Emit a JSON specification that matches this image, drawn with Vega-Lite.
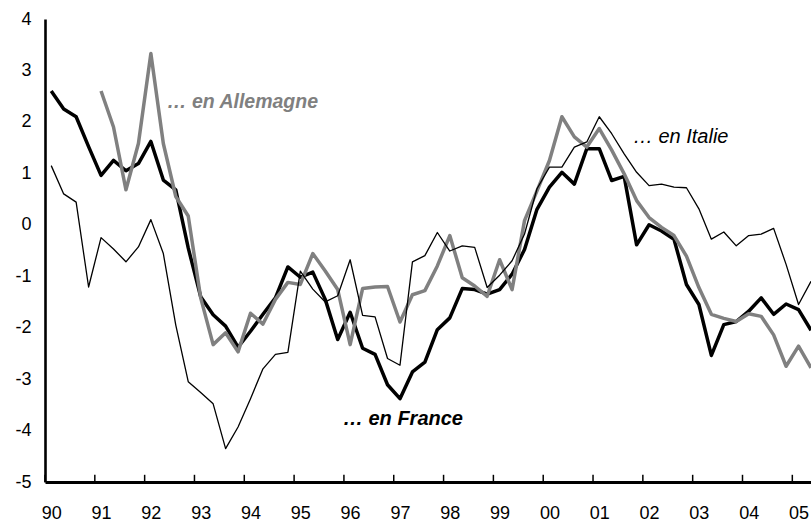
{
  "$schema": "https://vega.github.io/schema/vega-lite/v6.json",
  "width": 766,
  "height": 463,
  "autosize": {"type": "none"},
  "padding": {"left": 45, "top": 19, "right": 0, "bottom": 44},
  "background": "white",
  "config": {"view": {"stroke": null}, "font": "Liberation Sans"},
  "datasets": {
    "annees": [
      {"annee":1990},{"annee":1991},{"annee":1992},{"annee":1993},{"annee":1994},{"annee":1995},{"annee":1996},{"annee":1997},
      {"annee":1998},{"annee":1999},{"annee":2000},{"annee":2001},{"annee":2002},{"annee":2003},{"annee":2004},{"annee":2005}
    ],
    "france": [
      {"t":1990.125,"v":2.60},{"t":1990.375,"v":2.25},{"t":1990.625,"v":2.10},{"t":1990.875,"v":1.52},
      {"t":1991.125,"v":0.96},{"t":1991.375,"v":1.25},{"t":1991.625,"v":1.05},{"t":1991.875,"v":1.19},
      {"t":1992.125,"v":1.62},{"t":1992.375,"v":0.87},{"t":1992.625,"v":0.68},{"t":1992.875,"v":-0.45},
      {"t":1993.125,"v":-1.40},{"t":1993.375,"v":-1.75},{"t":1993.625,"v":-1.97},{"t":1993.875,"v":-2.38},
      {"t":1994.125,"v":-2.07},{"t":1994.375,"v":-1.74},{"t":1994.625,"v":-1.42},{"t":1994.875,"v":-0.82},
      {"t":1995.125,"v":-1.02},{"t":1995.375,"v":-0.92},{"t":1995.625,"v":-1.45},{"t":1995.875,"v":-2.23},
      {"t":1996.125,"v":-1.70},{"t":1996.375,"v":-2.40},{"t":1996.625,"v":-2.52},{"t":1996.875,"v":-3.11},
      {"t":1997.125,"v":-3.38},{"t":1997.375,"v":-2.86},{"t":1997.625,"v":-2.67},{"t":1997.875,"v":-2.04},
      {"t":1998.125,"v":-1.81},{"t":1998.375,"v":-1.24},{"t":1998.625,"v":-1.26},{"t":1998.875,"v":-1.35},
      {"t":1999.125,"v":-1.26},{"t":1999.375,"v":-0.96},{"t":1999.625,"v":-0.48},{"t":1999.875,"v":0.30},
      {"t":2000.125,"v":0.73},{"t":2000.375,"v":1.02},{"t":2000.625,"v":0.79},{"t":2000.875,"v":1.48},
      {"t":2001.125,"v":1.48},{"t":2001.375,"v":0.86},{"t":2001.625,"v":0.94},{"t":2001.875,"v":-0.39},
      {"t":2002.125,"v":0.00},{"t":2002.375,"v":-0.12},{"t":2002.625,"v":-0.28},{"t":2002.875,"v":-1.16},
      {"t":2003.125,"v":-1.55},{"t":2003.375,"v":-2.54},{"t":2003.625,"v":-1.94},{"t":2003.875,"v":-1.88},
      {"t":2004.125,"v":-1.68},{"t":2004.375,"v":-1.42},{"t":2004.625,"v":-1.74},{"t":2004.875,"v":-1.54},
      {"t":2005.125,"v":-1.65},{"t":2005.375,"v":-2.05}
    ],
    "allemagne": [
      {"t":1991.125,"v":2.60},{"t":1991.375,"v":1.90},{"t":1991.625,"v":0.68},{"t":1991.875,"v":1.58},
      {"t":1992.125,"v":3.33},{"t":1992.375,"v":1.58},{"t":1992.625,"v":0.55},{"t":1992.875,"v":0.17},
      {"t":1993.125,"v":-1.42},{"t":1993.375,"v":-2.33},{"t":1993.625,"v":-2.10},{"t":1993.875,"v":-2.47},
      {"t":1994.125,"v":-1.72},{"t":1994.375,"v":-1.93},{"t":1994.625,"v":-1.45},{"t":1994.875,"v":-1.12},
      {"t":1995.125,"v":-1.16},{"t":1995.375,"v":-0.56},{"t":1995.625,"v":-0.90},{"t":1995.875,"v":-1.26},
      {"t":1996.125,"v":-2.33},{"t":1996.375,"v":-1.24},{"t":1996.625,"v":-1.21},{"t":1996.875,"v":-1.20},
      {"t":1997.125,"v":-1.89},{"t":1997.375,"v":-1.36},{"t":1997.625,"v":-1.28},{"t":1997.875,"v":-0.80},
      {"t":1998.125,"v":-0.21},{"t":1998.375,"v":-1.03},{"t":1998.625,"v":-1.19},{"t":1998.875,"v":-1.39},
      {"t":1999.125,"v":-0.68},{"t":1999.375,"v":-1.26},{"t":1999.625,"v":0.08},{"t":1999.875,"v":0.66},
      {"t":2000.125,"v":1.25},{"t":2000.375,"v":2.10},{"t":2000.625,"v":1.71},{"t":2000.875,"v":1.51},
      {"t":2001.125,"v":1.87},{"t":2001.375,"v":1.45},{"t":2001.625,"v":0.99},{"t":2001.875,"v":0.47},
      {"t":2002.125,"v":0.14},{"t":2002.375,"v":-0.05},{"t":2002.625,"v":-0.21},{"t":2002.875,"v":-0.61},
      {"t":2003.125,"v":-1.22},{"t":2003.375,"v":-1.74},{"t":2003.625,"v":-1.82},{"t":2003.875,"v":-1.88},
      {"t":2004.125,"v":-1.73},{"t":2004.375,"v":-1.78},{"t":2004.625,"v":-2.14},{"t":2004.875,"v":-2.75},
      {"t":2005.125,"v":-2.36},{"t":2005.375,"v":-2.78}
    ],
    "italie": [
      {"t":1990.125,"v":1.15},{"t":1990.375,"v":0.60},{"t":1990.625,"v":0.44},{"t":1990.875,"v":-1.21},
      {"t":1991.125,"v":-0.25},{"t":1991.375,"v":-0.47},{"t":1991.625,"v":-0.72},{"t":1991.875,"v":-0.43},
      {"t":1992.125,"v":0.10},{"t":1992.375,"v":-0.56},{"t":1992.625,"v":-1.95},{"t":1992.875,"v":-3.05},
      {"t":1993.125,"v":-3.26},{"t":1993.375,"v":-3.48},{"t":1993.625,"v":-4.35},{"t":1993.875,"v":-3.93},
      {"t":1994.125,"v":-3.38},{"t":1994.375,"v":-2.80},{"t":1994.625,"v":-2.52},{"t":1994.875,"v":-2.48},
      {"t":1995.125,"v":-0.90},{"t":1995.375,"v":-1.25},{"t":1995.625,"v":-1.50},{"t":1995.875,"v":-1.38},
      {"t":1996.125,"v":-0.68},{"t":1996.375,"v":-1.76},{"t":1996.625,"v":-1.79},{"t":1996.875,"v":-2.60},
      {"t":1997.125,"v":-2.73},{"t":1997.375,"v":-0.72},{"t":1997.625,"v":-0.60},{"t":1997.875,"v":-0.15},
      {"t":1998.125,"v":-0.51},{"t":1998.375,"v":-0.41},{"t":1998.625,"v":-0.44},{"t":1998.875,"v":-1.22},
      {"t":1999.125,"v":-0.98},{"t":1999.375,"v":-0.70},{"t":1999.625,"v":-0.18},{"t":1999.875,"v":0.70},
      {"t":2000.125,"v":1.12},{"t":2000.375,"v":1.12},{"t":2000.625,"v":1.51},{"t":2000.875,"v":1.61},
      {"t":2001.125,"v":2.10},{"t":2001.375,"v":1.77},{"t":2001.625,"v":1.38},{"t":2001.875,"v":1.02},
      {"t":2002.125,"v":0.76},{"t":2002.375,"v":0.79},{"t":2002.625,"v":0.73},{"t":2002.875,"v":0.72},
      {"t":2003.125,"v":0.31},{"t":2003.375,"v":-0.28},{"t":2003.625,"v":-0.14},{"t":2003.875,"v":-0.41},
      {"t":2004.125,"v":-0.21},{"t":2004.375,"v":-0.18},{"t":2004.625,"v":-0.07},{"t":2004.875,"v":-0.77},
      {"t":2005.125,"v":-1.55},{"t":2005.375,"v":-1.10}
    ]
  },
  "layer": [
    {
      "mark": {"type": "rule", "color": "black", "strokeWidth": 1.5},
      "encoding": {"y": {"datum": 0, "type": "quantitative"}}
    },
    {
      "mark": {"type": "rule", "color": "black", "strokeWidth": 1.5},
      "encoding": {"y": {"datum": 4, "type": "quantitative"}}
    },
    {
      "data": {"name": "annees"},
      "mark": {"type": "rule", "color": "black", "strokeWidth": 1.5},
      "encoding": {
        "x": {"field": "annee", "type": "quantitative"},
        "y": {"datum": -5, "type": "quantitative"},
        "y2": {"datum": -4.86}
      }
    },
    {
      "data": {"name": "france"},
      "mark": {"type": "line", "color": "black", "strokeWidth": 3.5, "strokeJoin": "round", "clip": true},
      "encoding": {
        "x": {
          "field": "t", "type": "quantitative",
          "scale": {"domain": [1990, 2005.375], "nice": false, "zero": false},
          "axis": {
            "values": [1990,1991,1992,1993,1994,1995,1996,1997,1998,1999,2000,2001,2002,2003,2004,2005],
            "labelExpr": "slice(toString(datum.value), 2)",
            "title": null, "grid": false,
            "ticks": false, "tickSize": 0,
            "domainColor": "black", "domainWidth": 2.8,
            "labelFontSize": 18, "labelColor": "black", "labelPadding": 22,
            "labelOffset": 6.2, "labelFlush": false, "labelFont": "Liberation Sans"
          }
        },
        "y": {
          "field": "v", "type": "quantitative",
          "scale": {"domain": [-5, 4], "nice": false, "zero": false},
          "axis": {
            "values": [-5,-4,-3,-2,-1,0,1,2,3,4],
            "labelExpr": "toString(datum.value)",
            "title": null, "grid": false, "ticks": false,
            "domainColor": "black", "domainWidth": 2.6,
            "labelFontSize": 18, "labelColor": "black", "labelPadding": 14,
            "labelFont": "Liberation Sans"
          }
        }
      }
    },
    {
      "data": {"name": "allemagne"},
      "mark": {"type": "line", "color": "#808080", "strokeWidth": 3.5, "strokeJoin": "round", "clip": true},
      "encoding": {
        "x": {"field": "t", "type": "quantitative"},
        "y": {"field": "v", "type": "quantitative"}
      }
    },
    {
      "data": {"name": "italie"},
      "mark": {"type": "line", "color": "black", "strokeWidth": 1.3, "strokeJoin": "round", "clip": true},
      "encoding": {
        "x": {"field": "t", "type": "quantitative"},
        "y": {"field": "v", "type": "quantitative"}
      }
    },
    {
      "data": {"values": [{"texte": "… en Allemagne", "t": 1992.449, "v": 2.39}]},
      "mark": {"type": "text", "align": "left", "baseline": "middle", "font": "Liberation Sans", "fontSize": 19.5, "fontWeight": "bold", "fontStyle": "italic", "color": "#808080"},
      "encoding": {
        "x": {"field": "t", "type": "quantitative"},
        "y": {"field": "v", "type": "quantitative"},
        "text": {"field": "texte"}
      }
    },
    {
      "data": {"values": [{"texte": "… en France", "t": 1995.98, "v": -3.77}]},
      "mark": {"type": "text", "align": "left", "baseline": "middle", "font": "Liberation Sans", "fontSize": 20, "fontWeight": "bold", "fontStyle": "italic", "color": "black"},
      "encoding": {
        "x": {"field": "t", "type": "quantitative"},
        "y": {"field": "v", "type": "quantitative"},
        "text": {"field": "texte"}
      }
    },
    {
      "data": {"values": [{"texte": "… en Italie", "t": 2001.80, "v": 1.70}]},
      "mark": {"type": "text", "align": "left", "baseline": "middle", "font": "Liberation Sans", "fontSize": 20, "fontStyle": "italic", "color": "black"},
      "encoding": {
        "x": {"field": "t", "type": "quantitative"},
        "y": {"field": "v", "type": "quantitative"},
        "text": {"field": "texte"}
      }
    }
  ]
}
